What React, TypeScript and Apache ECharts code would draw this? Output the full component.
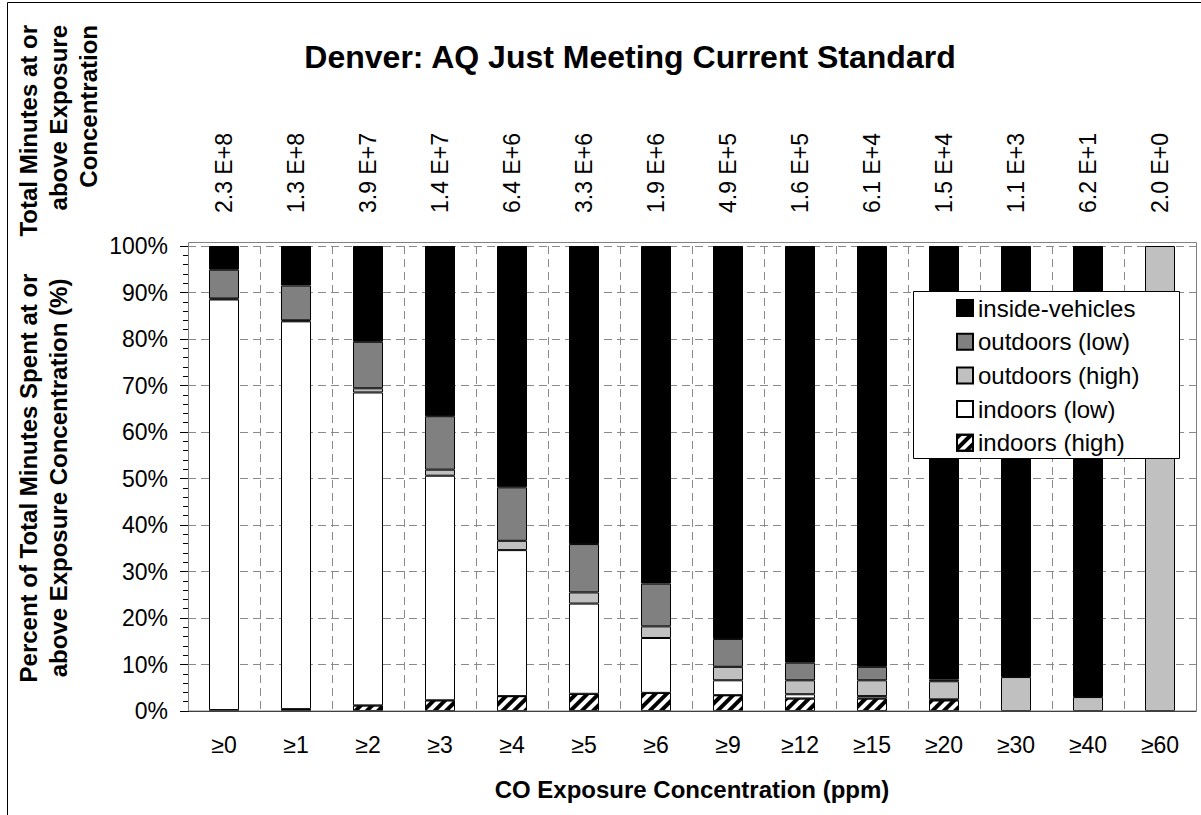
import React, { useEffect, useRef } from 'react';
import * as echarts from 'echarts';

const categories = ['≥0', '≥1', '≥2', '≥3', '≥4', '≥5', '≥6', '≥9', '≥12', '≥15', '≥20', '≥30', '≥40', '≥60'];
const totalLabels = ['2.3 E+8', '1.3 E+8', '3.9 E+7', '1.4 E+7', '6.4 E+6', '3.3 E+6', '1.9 E+6', '4.9 E+5', '1.6 E+5', '6.1 E+4', '1.5 E+4', '1.1 E+3', '6.2 E+1', '2.0 E+0'];
const yTicks = [0, 10, 20, 30, 40, 50, 60, 70, 80, 90, 100];

const indoorsHigh = [0.2, 0.4, 1.2, 2.3, 3.2, 3.7, 3.9, 3.4, 2.7, 2.7, 2.3, 0, 0, 0];
const indoorsLow = [88.3, 83.4, 67.3, 48.3, 31.4, 19.4, 11.8, 3.2, 0.9, 0.5, 0.2, 0, 0, 0];
const outdoorsHigh = [0.2, 0.2, 0.9, 1.3, 2.0, 2.4, 2.5, 2.9, 3.0, 3.4, 3.9, 7.3, 3.0, 100];
const outdoorsLow = [6.2, 7.5, 10.0, 11.5, 11.5, 10.4, 9.2, 6.0, 3.8, 2.9, 0.4, 0, 0, 0];
const insideVehicles = [5.1, 8.5, 20.6, 36.6, 51.9, 64.1, 72.6, 84.5, 89.6, 90.5, 93.2, 92.7, 97.0, 0];

const legendOrder = ['inside-vehicles', 'outdoors (low)', 'outdoors (high)', 'indoors (low)', 'indoors (high)'];

const FONT = '"Liberation Sans", Arial, Helvetica, sans-serif';

export default function App() {
  const ref = useRef<HTMLDivElement>(null);

  useEffect(() => {
    if (!ref.current) return;
    const chart = echarts.init(ref.current, null, { renderer: 'svg' });
    const gridLeft = 188;
    const gridTop = 246;
    const gridW = 1008;
    const gridH = 465;
    const nz = (arr: number[]) => arr.map((v) => (v === 0 ? null : v));
    const mk = (name: string, data: number[], color: string, extra: any = {}) => ({
      name,
      type: 'bar',
      stack: 'total',
      data: nz(data),
      barWidth: 30,
      xAxisIndex: 0,
      yAxisIndex: 0,
      itemStyle: { color, borderColor: '#000', borderWidth: 1, ...extra },
      emphasis: { disabled: true },
    });

    const option: any = {
      animation: false,
      backgroundColor: '#fff',
      textStyle: { fontFamily: FONT },
      grid: [
        { left: gridLeft, top: gridTop, width: gridW, height: gridH },
        { left: gridLeft, top: gridTop, width: gridW, height: gridH },
      ],
      xAxis: [
        {
          type: 'category',
          gridIndex: 0,
          data: categories,
          position: 'bottom',
          axisLine: { lineStyle: { color: '#000', width: 1 } },
          axisTick: { length: 8, interval: 0, lineStyle: { color: '#000' } },
          axisLabel: { fontSize: 23, color: '#000', margin: 22, interval: 0, fontFamily: FONT },
          splitLine: { show: true, interval: 0, lineStyle: { color: '#8a8a8a', type: [8, 5] } },
          name: 'CO Exposure Concentration (ppm)',
          nameLocation: 'middle',
          nameGap: 66,
          nameTextStyle: { fontSize: 24, fontWeight: 'bold', color: '#000', fontFamily: FONT },
        },
        {
          type: 'category',
          gridIndex: 0,
          data: totalLabels,
          position: 'top',
          axisLine: { show: false },
          axisTick: { show: false },
          axisLabel: { rotate: -90, fontSize: 23, color: '#000', margin: 33, interval: 0, fontFamily: FONT },
          splitLine: { show: false },
        },
        {
          type: 'category',
          gridIndex: 1,
          data: categories,
          position: 'bottom',
          axisLine: { show: false },
          axisTick: { alignWithLabel: true, length: 4, interval: 0, lineStyle: { color: '#000' } },
          axisLabel: { show: false },
          splitLine: { show: false },
        },
      ],
      yAxis: [
        {
          type: 'value',
          gridIndex: 0,
          min: yTicks[0],
          max: yTicks[yTicks.length - 1],
          interval: 10,
          axisLine: { show: true, lineStyle: { color: '#000' } },
          axisTick: { show: true, length: 8, lineStyle: { color: '#000' } },
          minorTick: { show: true, splitNumber: 5, length: 5, lineStyle: { color: '#000' } },
          axisLabel: { formatter: '{value}%', fontSize: 23, color: '#000', margin: 20, fontFamily: FONT },
          splitLine: { lineStyle: { color: '#8a8a8a', type: [8, 5] } },
        },
        { type: 'value', gridIndex: 1, min: 0, max: 100, show: false },
      ],
      legend: {
        orient: 'vertical',
        left: 956,
        top: 296,
        padding: 0,
        icon: 'rect',
        itemWidth: 16,
        itemHeight: 16,
        itemGap: 9.7,
        z: 110,
        selectedMode: false,
        data: legendOrder,
        textStyle: { fontSize: 24, color: '#000', fontFamily: FONT },
      },
      graphic: {
        elements: [
          {
            type: 'rect',
            silent: true,
            z: -10,
            shape: { x: 7.5, y: 2.5, width: 1300, height: 900 },
            style: { fill: 'none', stroke: '#000', lineWidth: 1 },
          },
          {
            type: 'rect',
            silent: true,
            z: 50,
            shape: { x: gridLeft + 0.5, y: 242.5, width: gridW, height: 468.5 },
            style: { fill: 'none', stroke: '#808080', lineWidth: 1 },
          },
          {
            type: 'rect',
            silent: true,
            z: 100,
            shape: { x: 913.5, y: 291.5, width: 266, height: 167 },
            style: { fill: '#fff', stroke: '#000', lineWidth: 1 },
          },
          {
            type: 'text',
            silent: true,
            x: 630,
            y: 57,
            style: {
              text: 'Denver: AQ Just Meeting Current Standard',
              font: `bold 32px ${FONT}`,
              fill: '#000',
              align: 'center',
              verticalAlign: 'middle',
              textAlign: 'center',
              textVerticalAlign: 'middle',
            },
          },
          {
            type: 'text',
            silent: true,
            x: 58,
            y: 25,
            rotation: Math.PI / 2,
            style: {
              text: 'Total Minutes at or\nabove Exposure\nConcentration',
              font: `bold 24px ${FONT}`,
              fill: '#000',
              lineHeight: 30,
              align: 'right',
              verticalAlign: 'middle',
              textAlign: 'right',
              textVerticalAlign: 'middle',
            },
          },
          {
            type: 'text',
            silent: true,
            x: 43.5,
            y: 478,
            rotation: Math.PI / 2,
            style: {
              text: 'Percent of Total Minutes Spent at or\nabove Exposure Concentration (%)',
              font: `bold 24px ${FONT}`,
              fill: '#000',
              lineHeight: 30,
              align: 'center',
              verticalAlign: 'middle',
              textAlign: 'center',
              textVerticalAlign: 'middle',
            },
          },
        ],
      },
      series: [
        mk('indoors (high)', indoorsHigh, '#fff', {
          decal: {
            symbol: 'rect',
            symbolSize: 1,
            color: '#000',
            backgroundColor: '#fff',
            dashArrayX: [1, 0],
            dashArrayY: [3.5, 3.5],
            rotation: -Math.PI / 4,
          },
        }),
        mk('indoors (low)', indoorsLow, '#fff'),
        mk('outdoors (high)', outdoorsHigh, '#c0c0c0'),
        mk('outdoors (low)', outdoorsLow, '#808080'),
        mk('inside-vehicles', insideVehicles, '#000'),
      ],
    };

    chart.setOption(option);
    return () => chart.dispose();
  }, []);

  return (
    <div
      ref={ref}
      style={{ position: 'fixed', left: 0, top: 0, width: 1201, height: 815, background: '#fff' }}
    />
  );
}
